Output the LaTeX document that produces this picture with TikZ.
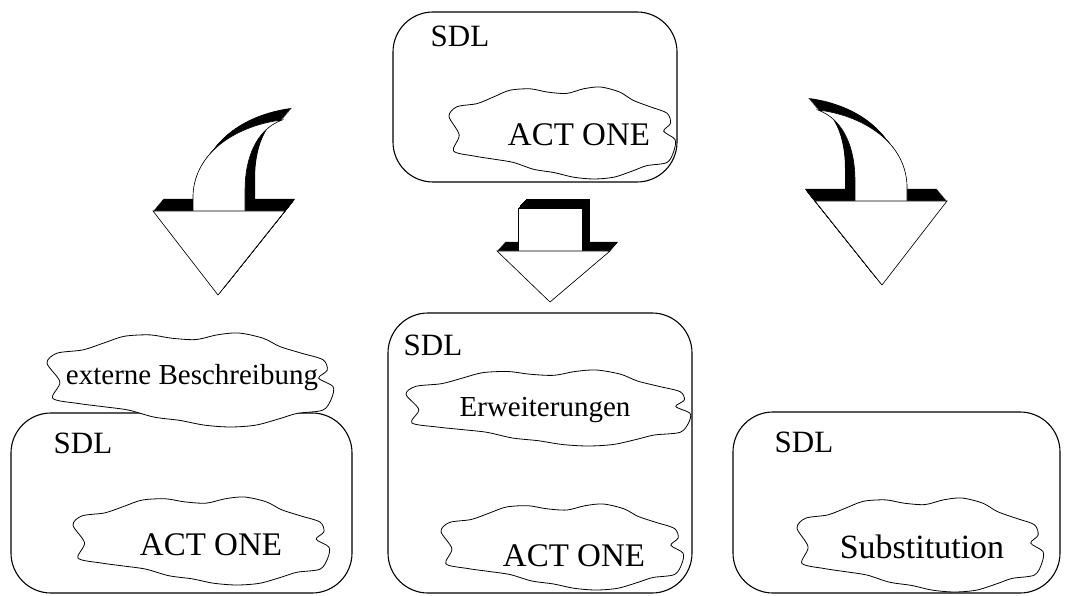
\documentclass[tikz,border=0pt]{standalone}
\usepackage{fontspec}
\setmainfont{Liberation Serif}
\begin{document}
\begin{tikzpicture}[x=1pt,y=-1pt,
  box/.style={draw=black,line width=1.1pt,rounded corners=40pt},
  cloudline/.style={draw=black,fill=white,line width=0.8pt},
  frontface/.style={fill=white,draw=black,line width=0.6pt},
  bigtext/.style={anchor=base,inner sep=0pt,font=\fontsize{33}{36}\selectfont},
  sdltext/.style={anchor=base,inner sep=0pt,font=\fontsize{31}{34}\selectfont},
  midtext/.style={anchor=base,inner sep=0pt,font=\fontsize{29}{32}\selectfont},
  % curved arrow: triangle head with a bent shaft
  curvedshaft/.style={insert path={(-26,0) -- (-26,-16) .. controls (-24,-61) and (21,-86) .. (63,-91)
      .. controls (36,-81) and (26,-51) .. (26,-21) -- (26,0) -- cycle}},
  curvedhead/.style={insert path={(-66,0) -- (66,0) -- (-1,84) -- cycle}},
  straightshaft/.style={insert path={(-32,0) -- (-32,-43) -- (32,-43) -- (32,0) -- cycle}},
  straighthead/.style={insert path={(-53,0) -- (60,0) -- (0,51) -- cycle}},
]
\useasboundingbox (0,0) rectangle (1066,596);

% generic wavy cloud outline, unit size, centred on the origin
\newcommand\wavycloud[5]{%
  \path[cloudline,shift={(#1,#2)},xscale=#3,yscale=#4] plot[smooth cycle,tension=0.5] coordinates {
    (-1,-0.36) (-0.93,-0.57) (-0.75,-0.64) (-0.60,-0.79) (-0.46,-0.93) (-0.28,-0.96)
    (-0.13,-0.89) (0.04,-0.86) (0.19,-0.96) (0.34,-1) (0.51,-0.89) (0.63,-0.71)
    (0.78,-0.57) (0.93,-0.43) (0.96,-0.21) (0.90,-0.04) (1,0.14) (0.99,0.39)
    (0.93,0.64) (0.75,0.71) (0.63,0.82) (0.46,0.96) (0.28,1) (0.10,0.96)
    (-0.07,0.86) (-0.25,0.79) (-0.43,0.64) (-0.60,0.57) (-0.78,0.5) (-0.96,0.39)
    (-0.91,0.04)} node (#5) {};}

% three-dimensional arrows: black extrusion swept behind a white face
\newcommand\curvedarrow[3]{%
  \begin{scope}[shift={(#1,#2)},xscale=#3]
    \foreach \t in {0,0.05,...,1.001} {
      \fill[black,shift={(10*\t,-12*\t)}] [curvedshaft];
      \fill[black,shift={(10*\t,-12*\t)}] [curvedhead];
    }
    \path[fill=white] [curvedshaft];
    \draw[line width=0.6pt] (-26,0) -- (-26,-16) .. controls (-24,-61) and (21,-86) .. (63,-91)
      .. controls (36,-81) and (26,-51) .. (26,-21) -- (26,0);
    \path[frontface] [curvedhead];
  \end{scope}}

% top box
\draw[box] (393,12) rectangle (677,182);
\node[sdltext] (sdlTop) at (460,47) {SDL};
\wavycloud{562}{133}{113}{46}{cloudTop}
\node[bigtext] (actTop) at (579,146) {ACT ONE};

% arrows
\curvedarrow{219}{211}{1}
\curvedarrow{881}{201}{-1}
\begin{scope}[shift={(550,251)}]
  \foreach \t in {0,0.05,...,1.001} {
    \fill[black,shift={(8*\t,-9*\t)}] [straightshaft];
    \fill[black,shift={(8*\t,-9*\t)}] [straighthead];
  }
  \path[frontface] [straightshaft];
  \path[frontface] [straighthead];
\end{scope}

% left box
\draw[box] (11,413) rectangle (352,593);
\node[sdltext] (sdlLeft) at (83,453) {SDL};
\wavycloud{201}{541}{128}{44}{cloudLeft}
\node[bigtext] (actLeft) at (211,555) {ACT ONE};
\wavycloud{190}{380}{143}{47}{cloudExt}
\node[midtext] (ext) at (192,384) {externe Beschreibung};

% middle box
\draw[box] (388,313) rectangle (692,593);
\node[sdltext] (sdlMid) at (433,355) {SDL};
\wavycloud{548}{408}{142}{38}{cloudErw}
\node[midtext] (erw) at (545,416) {Erweiterungen};
\wavycloud{562}{547}{121}{43}{cloudMid}
\node[bigtext] (actMid) at (574,566) {ACT ONE};

% right box
\draw[box] (733,412) rectangle (1060,593);
\node[sdltext] (sdlRight) at (804,452) {SDL};
\wavycloud{920}{545}{123}{47}{cloudSub}
\node[bigtext,font=\fontsize{34}{37}\selectfont] (sub) at (922,558) {Substitution};
\end{tikzpicture}
\end{document}
